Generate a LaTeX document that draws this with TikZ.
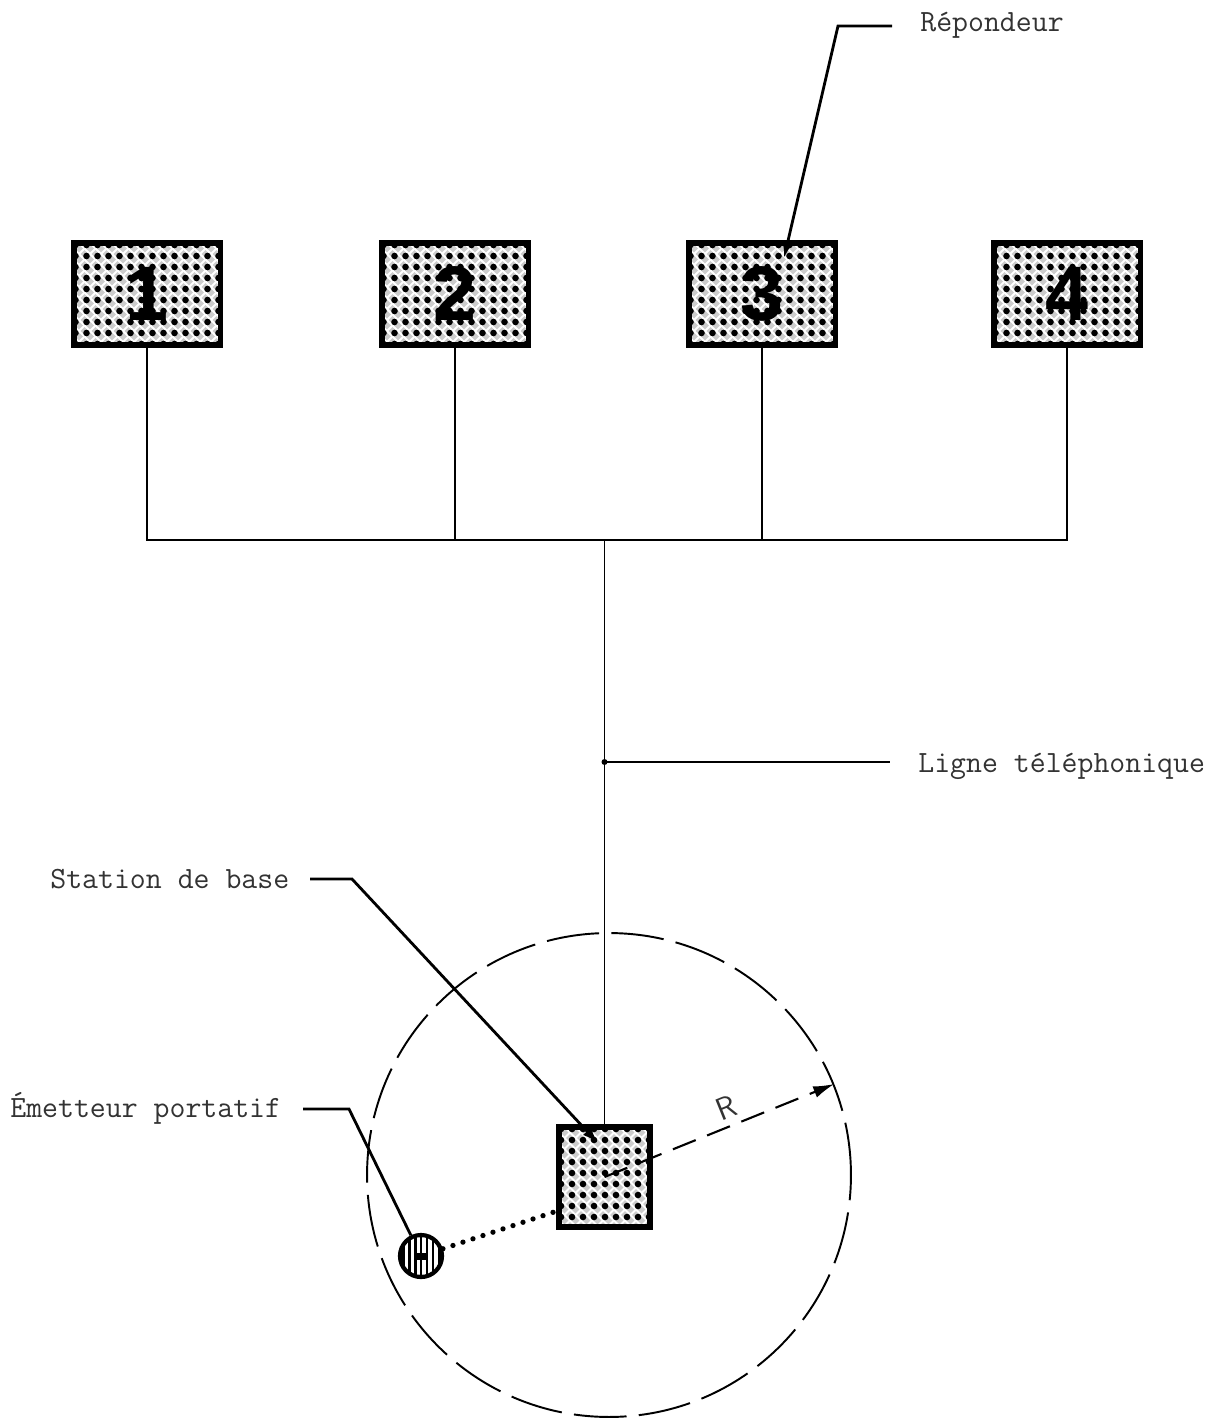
\documentclass[tikz,border=0pt]{standalone}
\usepackage{fontspec}
\newfontfamily\digitfont{Liberation Sans}
\usetikzlibrary{arrows.meta,calc}

\tikzset{
  dotfill/.style={path picture={
    \fill[gray!40] (path picture bounding box.south west) rectangle (path picture bounding box.north east);
    \foreach \k in {-20,...,30}{
      \draw[white,line width=1.1pt] ([shift={(\k*11+5.5,0)}]path picture bounding box.north west) -- ++(200,200);
      \draw[white,line width=1.1pt] ([shift={(\k*11+5.5,0)}]path picture bounding box.north west) -- ++(-200,200);
    }
    \foreach \i in {0,...,15}{\foreach \j in {0,...,11}{
      \fill ([shift={(\i*11+2,\j*11+2)}]path picture bounding box.north west) circle[radius=0.066cm];}}
  }},
  unitbox/.style={draw, line width=3.4pt, dotfill, minimum width=2.94cm, minimum height=2.04cm,
    inner sep=0pt, font=\digitfont\bfseries\fontsize{44}{44}\selectfont},
  basebox/.style={draw, line width=3.4pt, dotfill, minimum width=1.82cm, minimum height=2.0cm, inner sep=0pt},
  handset/.style={circle, draw, line width=2.4pt, minimum size=0.84cm, inner sep=0pt,
    path picture={
      \foreach \k in {-3,...,3}{
        \draw[line width=1.7pt] ([xshift=\k*0.12cm]path picture bounding box.north) -- ([xshift=\k*0.12cm]path picture bounding box.south);}
      \fill ($(path picture bounding box.center)+(-6,-3.5)$) rectangle ++(12,7);
    }},
  wire/.style={line width=1.1pt},
  leader/.style={line width=1.6pt},
  label/.style={text=black!80, inner sep=0pt, font=\ttfamily\fontsize{17.6}{20}\selectfont},
  tip/.style={-{Latex[length=0.32cm,width=0.22cm]}},
}

\begin{document}
\begin{tikzpicture}[x=0.02cm,y=-0.02cm]
\useasboundingbox (0,0) rectangle (1213,1419);

% answering units
\node[unitbox] (u1) at (147,294) {1};
\node[unitbox] (u2) at (455,294) {2};
\node[unitbox] (u3) at (762,294) {3};
\node[unitbox] (u4) at (1067,294) {4};

% base station and its coverage
\node[basebox] (base) at (604.5,1177) {};
\node[circle, draw, line width=1.1pt, minimum size=9.68cm, inner sep=0pt,
      dash pattern=on 30pt off 7pt] (range) at (609,1175) {};

% portable handset
\node[handset] (hand) at (421,1256) {};

% telephone line
\coordinate (bus) at (606,540);
\draw[wire] (u1.south) |- (bus);
\draw[wire] (u4.south) |- (bus);
\draw[wire] (u2.south) -- (u2.south |- bus);
\draw[wire] (u3.south) -- (u3.south |- bus);
\draw[wire] (base.north) -- (base.north |- bus);
\coordinate (tap) at (base.north |- 0,762);

% radius
\draw[line width=1.2pt, dash pattern=on 14pt off 7pt, -{Latex[length=0.42cm,width=0.24cm]}]
  (base.center) -- (range.22)
  node[pos=0.56, sloped, above=4pt, inner sep=0pt, font=\sffamily\fontsize{18}{18}\selectfont, text=black!80] (rlab) {R};

% radio link
\coordinate (linkend) at ($(base.west)+(-2,35)$);
\draw[line width=3pt, line cap=round, dash pattern=on 0pt off 6pt] (hand) -- (linkend);

% labels
\node[label, anchor=base west] (lrep) at (920,32) {Répondeur};
\node[label, anchor=base west] (lline) at (918,772) {Ligne téléphonique};
\node[label, anchor=base west] (lbase) at (50,888) {Station de base};
\node[label, anchor=base west] (lhand) at (10,1117) {Émetteur portatif};

\coordinate (rep1) at (892,26);
\coordinate (rep2) at (838,26);
\coordinate (reptip) at (784,258);
\draw[leader, tip] (rep1) -- (rep2) -- (reptip);

\coordinate (line1) at (890,762);
\draw[wire] (tap) -- (line1);
\fill (tap) circle[radius=0.06cm];

\coordinate (bs1) at (310,879);
\coordinate (bs2) at (352,879);
\coordinate (bstip) at (598,1143);
\draw[leader, tip] (bs1) -- (bs2) -- (bstip);

\coordinate (em1) at (303,1109);
\coordinate (em2) at (349,1109);
\draw[leader] (em1) -- (em2) -- (hand);
\end{tikzpicture}
\end{document}
